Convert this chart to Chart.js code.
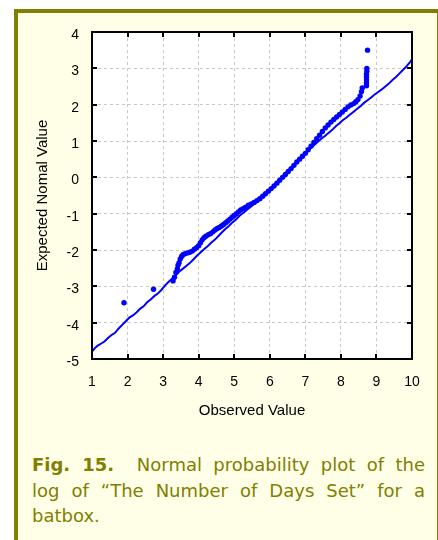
<!DOCTYPE html>
<html>
<head>
<meta charset="utf-8">
<script src="https://cdn.jsdelivr.net/npm/chart.js@4.4.1/dist/chart.umd.min.js"></script>
<style>
  html, body { margin:0; padding:0; width:438px; height:540px; overflow:hidden; background:#ffffff; }
  #frame { position:absolute; left:14px; top:9px; width:419px; height:600px; border:4px solid #808000; background:#FFFFE8; }
  #chartWrap { position:absolute; left:0; top:0; width:438px; height:430px; }
  #cap { position:absolute; left:32px; top:452px; width:393px; font-family:"DejaVu Sans", Verdana, sans-serif; font-size:18px; line-height:25.5px; color:#808000; }
  #cap .j { text-align:justify; text-align-last:justify; }
  #cap b { font-weight:bold; }
</style>
</head>
<body>
<div id="frame"></div>
<div id="chartWrap"><canvas id="c" width="438" height="430"></canvas></div>
<div id="cap">
  <div class="j"><b>Fig. 15.</b>&nbsp; Normal probability plot of the</div>
  <div class="j">log of “The Number of Days Set” for a</div>
  <div>batbox.</div>
</div>
<script>
// ---- data ----
const xTickValues = [1,2,3,4,5,6,7,8,9,10];
const yTickValues = [-5,-4,-3,-2,-1,0,1,2,3,4];

// reference line (jagged)
const lineX = [1.00,1.08,1.15,1.25,1.35,1.45,1.55,1.65,1.75,1.85,1.95,2.05,2.15,2.25,2.35,2.45,2.55,2.65,2.75,2.85,2.95,3.05,3.15,3.25,3.35,3.45,3.55,3.65,3.75,3.85,3.95,4.05,4.15,4.25,4.35,4.45,4.55,4.65,4.75,4.85,4.95,5.05,5.15,5.25,5.35,5.45,5.55,5.65,5.75,5.85,5.95,6.05,6.15,6.25,6.35,6.45,6.55,6.65,6.75,6.85,6.95,7.05,7.15,7.25,7.35,7.45,7.55,7.65,7.75,7.85,7.95,8.05,8.15,8.25,8.35,8.45,8.55,8.65,8.75,8.85,8.95,9.05,9.15,9.25,9.35,9.45,9.55,9.65,9.75,9.85,9.95,10.00];
const lineY = [-4.80,-4.70,-4.64,-4.58,-4.52,-4.42,-4.34,-4.28,-4.16,-4.06,-3.96,-3.86,-3.80,-3.72,-3.62,-3.55,-3.44,-3.36,-3.27,-3.20,-3.10,-2.98,-2.88,-2.79,-2.70,-2.60,-2.52,-2.44,-2.36,-2.26,-2.16,-2.07,-1.98,-1.90,-1.80,-1.72,-1.62,-1.52,-1.42,-1.34,-1.24,-1.16,-1.06,-0.98,-0.90,-0.82,-0.74,-0.66,-0.58,-0.50,-0.40,-0.30,-0.20,-0.10,0.02,0.12,0.22,0.32,0.42,0.52,0.61,0.70,0.80,0.89,0.98,1.06,1.14,1.22,1.30,1.40,1.48,1.57,1.64,1.72,1.80,1.88,1.96,2.05,2.12,2.20,2.28,2.35,2.42,2.50,2.58,2.68,2.76,2.86,2.96,3.06,3.18,3.25];

// observed points
const pointX = [1.90,2.73,3.28,3.32,3.36,3.40,3.42,3.45,3.48,3.52,3.56,3.62,3.68,3.75,3.82,3.88,3.94,4.00,4.05,4.10,4.15,4.20,4.27,4.33,4.40,4.46,4.52,4.58,4.64,4.70,4.76,4.82,4.88,4.94,5.00,5.06,5.12,5.18,5.25,5.32,5.40,5.48,5.56,5.64,5.72,5.80,5.88,5.96,6.04,6.12,6.20,6.28,6.36,6.44,6.52,6.60,6.68,6.76,6.84,6.92,7.00,7.08,7.16,7.24,7.32,7.40,7.48,7.56,7.64,7.72,7.80,7.88,7.96,8.04,8.12,8.20,8.28,8.36,8.42,8.48,8.54,8.58,8.60,8.72,8.72,8.72,8.72,8.72,8.73,8.73,8.75];
const pointY = [-3.45,-3.08,-2.85,-2.75,-2.62,-2.52,-2.42,-2.35,-2.25,-2.18,-2.13,-2.10,-2.08,-2.06,-2.03,-1.98,-1.94,-1.88,-1.80,-1.72,-1.66,-1.62,-1.58,-1.55,-1.50,-1.45,-1.41,-1.38,-1.34,-1.30,-1.25,-1.20,-1.15,-1.10,-1.05,-1.00,-0.95,-0.90,-0.86,-0.82,-0.77,-0.73,-0.69,-0.64,-0.59,-0.52,-0.45,-0.38,-0.31,-0.24,-0.16,-0.08,0.00,0.08,0.16,0.24,0.33,0.42,0.50,0.58,0.66,0.76,0.86,0.96,1.06,1.16,1.26,1.36,1.44,1.52,1.59,1.66,1.73,1.80,1.87,1.94,1.99,2.03,2.08,2.14,2.24,2.36,2.46,2.52,2.60,2.68,2.76,2.84,2.92,3.00,3.50];

const xTitle = "Observed Value";
const yTitle = "Expected Nomal Value";

// ---- build ----
const linePts = lineX.map((x,i)=>({x, y: lineY[i]}));
const obsPts = pointX.map((x,i)=>({x, y: pointY[i]}));

const framePlugin = {
  id: 'framePlugin',
  beforeDraw(chart) {
    const a = chart.chartArea, ctx = chart.ctx;
    ctx.save();
    ctx.fillStyle = '#ffffff';
    ctx.fillRect(a.left, a.top, a.right - a.left, a.bottom - a.top);
    ctx.restore();
  },
  afterDraw(chart) {
    const a = chart.chartArea, ctx = chart.ctx;
    const xs = chart.scales.x, ys = chart.scales.y;
    const tl = 5;
    ctx.save();
    ctx.strokeStyle = '#000';
    ctx.lineWidth = 2;
    ctx.beginPath();
    xTickValues.slice(1, -1).forEach(v => {
      const px = Math.round(xs.getPixelForValue(v));
      ctx.moveTo(px, a.top); ctx.lineTo(px, a.top + tl);
      ctx.moveTo(px, a.bottom); ctx.lineTo(px, a.bottom - tl);
    });
    yTickValues.slice(1, -1).forEach(v => {
      const py = Math.round(ys.getPixelForValue(v));
      ctx.moveTo(a.left, py); ctx.lineTo(a.left + tl, py);
      ctx.moveTo(a.right, py); ctx.lineTo(a.right - tl, py);
    });
    ctx.stroke();
    ctx.strokeRect(a.left, a.top, a.right - a.left, a.bottom - a.top);
    ctx.restore();
  }
};

const tickFont = { family: '"Liberation Sans", Arial, sans-serif', size: 14 };
const titleFont = { family: '"Liberation Sans", Arial, sans-serif', size: 15 };

new Chart(document.getElementById('c'), {
  type: 'scatter',
  data: {
    datasets: [
      { data: linePts, showLine: true, borderColor: '#0000ff', borderWidth: 2, pointRadius: 0, tension: 0, fill: false },
      { data: obsPts, showLine: false, backgroundColor: '#0000ff', borderWidth: 0, pointRadius: 2.7 }
    ]
  },
  options: {
    responsive: false,
    animation: false,
    devicePixelRatio: 1,
    layout: { padding: { left: 0, right: 26, top: 32, bottom: 1 } },
    plugins: { legend: { display: false }, tooltip: { enabled: false } },
    scales: {
      x: {
        type: 'linear', min: 1, max: 10,
        afterBuildTicks(s) { s.ticks = xTickValues.map(v => ({ value: v })); },
        afterFit(s) { s.height = 70; },
        ticks: { color: '#000', font: tickFont, padding: 15, maxRotation: 0 },
        grid: { color: '#c8c8c8', lineWidth: 1, drawTicks: false },
        border: { display: false, dash: [3, 3] },
        title: { display: true, text: xTitle, color: '#000', font: titleFont, padding: { top: 0, bottom: 9 } }
      },
      y: {
        type: 'linear', min: -5, max: 4,
        afterBuildTicks(s) { s.ticks = yTickValues.map(v => ({ value: v })); },
        afterFit(s) { s.width = 92; },
        ticks: { color: '#000', font: tickFont, padding: 13, labelOffset: 3 },
        grid: { color: '#c8c8c8', lineWidth: 1, drawTicks: false },
        border: { display: false, dash: [3, 3] },
        title: { display: true, text: yTitle, color: '#000', font: titleFont, padding: { top: 34, bottom: 0 } }
      }
    }
  },
  plugins: [framePlugin]
});
</script>
</body>
</html>
